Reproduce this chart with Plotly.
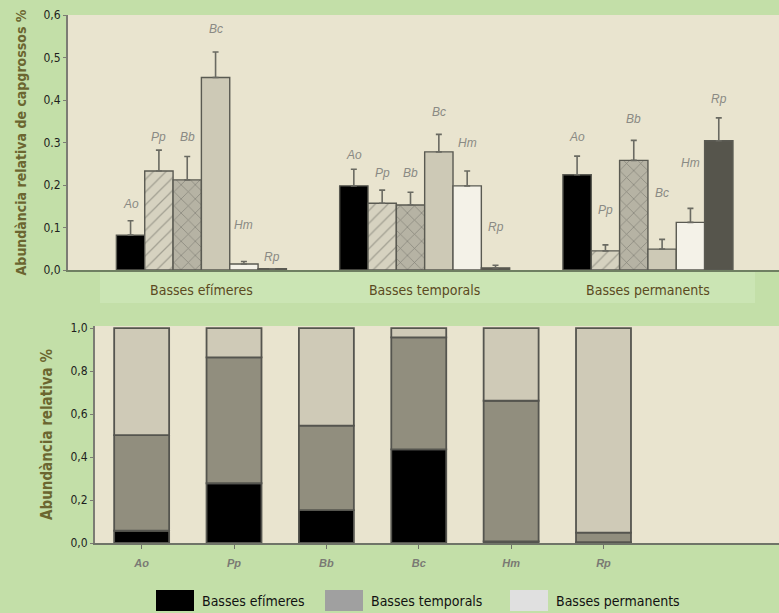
import plotly.graph_objects as go
import numpy as np

# ---------------- data ----------------
groups = ["Basses efímeres", "Basses temporals", "Basses permanents"]
species = ["Ao", "Pp", "Bb", "Bc", "Hm", "Rp"]

# top panel: relative abundance of tadpoles (mean) per pond type, and upper error
mean_Ao = [0.082, 0.198, 0.224]
mean_Pp = [0.233, 0.157, 0.045]
mean_Bb = [0.212, 0.153, 0.258]
mean_Bc = [0.453, 0.278, 0.049]
mean_Hm = [0.014, 0.198, 0.112]
mean_Rp = [0.003, 0.005, 0.304]

err_Ao = [0.034, 0.039, 0.044]
err_Pp = [0.049, 0.031, 0.014]
err_Bb = [0.055, 0.030, 0.047]
err_Bc = [0.060, 0.041, 0.023]
err_Hm = [0.006, 0.035, 0.033]
err_Rp = [0.000, 0.006, 0.054]

top_ticks = [0.0, 0.1, 0.2, 0.3, 0.4, 0.5, 0.6]
top_ticktext = ["0,0", "0,1", "0,2", "0.3", "0,4", "0,5", "0,6"]

# bottom panel: share of each species found in each pond type
share_efimeres = [0.057, 0.278, 0.153, 0.436, 0.008, 0.004]
share_temporals = [0.445, 0.586, 0.393, 0.521, 0.654, 0.044]
share_permanents = [0.498, 0.136, 0.454, 0.043, 0.338, 0.952]

# ---------------- styles ----------------
W, H = 779, 613
GREEN = "#c3dfa8"
BAND = "#cbe5b4"
BEIGE = "#e9e4cf"
FONT_N = "Liberation Sans Narrow, DejaVu Sans Condensed, Roboto Condensed, Arial Narrow, sans-serif"
OUTLINE = "#5a5a52"

def px_x(p):
    return p / W

def px_y(p):
    return 1 - p / H

top_bargap = 0.2385

means = [mean_Ao, mean_Pp, mean_Bb, mean_Bc, mean_Hm, mean_Rp]
errs = [err_Ao, err_Pp, err_Bb, err_Bc, err_Hm, err_Rp]
bar_styles = [
    dict(color="#000000"),
    dict(color="#d6d2c0", pattern=dict(shape="/", fgcolor="#6e6d64", bgcolor="#d6d2c0", size=9, solidity=0.14)),
    dict(color="#b6b3a4", pattern=dict(shape="x", fgcolor="#55554e", bgcolor="#b6b3a4", size=10, solidity=0.14)),
    dict(color="#cdc9b6"),
    dict(color="#f4f2e8"),
    dict(color="#56554c"),
]
# extra vertical lift (px) of the italic species labels above each error bar
label_lift = [
    [0, -3, 2],
    [-4, 0, 18],
    [3, 2, 4],
    [6, 5, 29],
    [20, 11, 28],
    [-5, 21, 2],
]

fig = go.Figure()

for i, sp in enumerate(species):
    fig.add_trace(go.Bar(
        x=groups, y=means[i], name=sp, xaxis="x", yaxis="y",
        marker=dict(line=dict(color=OUTLINE, width=1.4), **bar_styles[i]),
        error_y=dict(type="data", symmetric=False, array=errs[i],
                     arrayminus=[0] * len(groups), color="#6a6a62",
                     thickness=1.6, width=3),
        showlegend=False, hoverinfo="skip",
    ))

annotations = []
bw = (1 - top_bargap) / len(species)
for i, sp in enumerate(species):
    for g in range(len(groups)):
        annotations.append(dict(
            x=g + (i - (len(species) - 1) / 2) * bw,
            y=means[i][g] + errs[i][g], xref="x", yref="y",
            text=f"<i>{sp}</i>", showarrow=False, yanchor="middle",
            yshift=17 + label_lift[i][g],
            font=dict(family="Liberation Sans, Arial, sans-serif", size=12, color="#8a8a84"),
        ))

# bottom stacked bars
shares = [share_efimeres, share_temporals, share_permanents]
stack_colors = ["#000000", "#918e7e", "#cfcab7"]
base = np.zeros(len(species))
for k, sh in enumerate(shares):
    fig.add_trace(go.Bar(
        x=species, y=sh, base=base.copy(), xaxis="x2", yaxis="y2",
        offsetgroup="stack", width=0.595,
        marker=dict(color=stack_colors[k], line=dict(color="#55554f", width=1.8)),
        showlegend=False, hoverinfo="skip",
    ))
    base = base + np.array(sh)

# custom legend (large swatches)
legend_items = [("Basses efímeres", "#000000"), ("Basses temporals", "#a0a0a0"), ("Basses permanents", "#e0e0e0")]
legend_x = [156, 325, 510]
shapes = [
    dict(type="rect", xref="paper", yref="paper", x0=px_x(100), x1=px_x(755),
         y0=px_y(303), y1=px_y(271), fillcolor=BAND, line=dict(width=0), layer="below"),
]
for (lab, col), lx in zip(legend_items, legend_x):
    shapes.append(dict(type="rect", xref="paper", yref="paper",
                       x0=px_x(lx), x1=px_x(lx + 38), y0=px_y(611), y1=px_y(590),
                       fillcolor=col, line=dict(width=0)))
    annotations.append(dict(x=px_x(lx + 44), y=px_y(600.5), xref="paper", yref="paper",
                            text=lab, showarrow=False, xanchor="left", yanchor="middle",
                            font=dict(family=FONT_N, size=14, color="#111111")))

fig.update_layout(
    width=W, height=H, autosize=False,
    margin=dict(l=0, r=0, t=0, b=0, autoexpand=False),
    paper_bgcolor=GREEN, plot_bgcolor=BEIGE,
    separators=",.",
    barmode="group", bargap=top_bargap, bargroupgap=0,
    showlegend=False,
    shapes=shapes, annotations=annotations,
    xaxis=dict(domain=[px_x(68), 1], anchor="y", type="category", automargin=False,
               categoryorder="array", categoryarray=groups,
               range=[-0.5975, 2.587], showline=True, linecolor="#6f7f62", linewidth=2,
               ticks="", showgrid=False, zeroline=False, ticklabelstandoff=6,
               tickfont=dict(family=FONT_N, size=14, color="#5b4a1f")),
    yaxis=dict(domain=[px_y(270), px_y(15)], anchor="x", range=[0, 0.6], automargin=False,
               tickvals=top_ticks, ticktext=top_ticktext,
               showline=True, linecolor="#7c7c74", linewidth=2,
               ticks="outside", ticklen=3, tickcolor="#7c7c74", showgrid=False, zeroline=False,
               tickfont=dict(family=FONT_N, size=12, color="#1e1e1e"),
               title=dict(text="<b>Abundància relativa de capgrossos %</b>", standoff=14,
                          font=dict(family=FONT_N, size=14, color="#6b6630"))),
    xaxis2=dict(domain=[px_x(95), 1], anchor="y2", type="category", automargin=False,
                categoryorder="array", categoryarray=species,
                range=[-0.505, 6.9], showline=True, linecolor="#6f7468", linewidth=2,
                ticks="outside", ticklen=4, tickcolor="#6f7468", showgrid=False, zeroline=False,
                ticklabelstandoff=5,
                tickfont=dict(family="Liberation Sans, Arial, sans-serif", size=11, color="#7a7a74"),
                tickvals=species, ticktext=[f"<b><i>{s}</i></b>" for s in species]),
    yaxis2=dict(domain=[px_y(543), px_y(326)], anchor="x2", range=[0, 1.01], automargin=False,
                tickvals=[0, 0.2, 0.4, 0.6, 0.8, 1.0], tickformat=".1f",
                showline=True, linecolor="#7c7c74", linewidth=2,
                ticks="outside", ticklen=3, tickcolor="#7c7c74", showgrid=False, zeroline=False,
                tickfont=dict(family=FONT_N, size=12, color="#1e1e1e"),
                title=dict(text="<b>Abundància relativa %</b>", standoff=14,
                           font=dict(family=FONT_N, size=15, color="#6b6630"))),
)

fig.write_html(
    "out.html",
    config={"displayModeBar": False},
    post_script="document.documentElement.style.margin='0';"
                "document.body.style.margin='0';document.body.style.overflow='hidden';",
)
